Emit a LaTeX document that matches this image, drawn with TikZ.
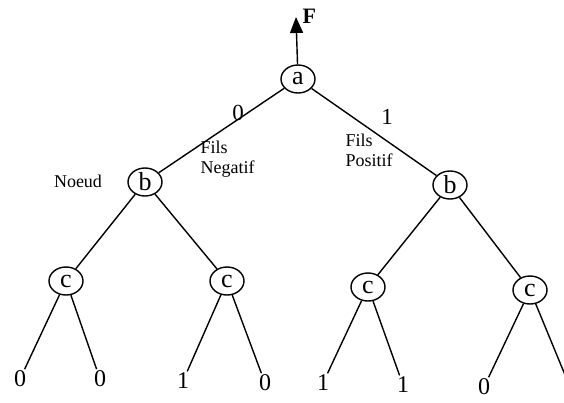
\documentclass[tikz,border=0pt]{standalone}
\usepackage{fontspec}
\setmainfont{Liberation Serif}
\usetikzlibrary{shapes.geometric,arrows.meta}
\begin{document}
\begin{tikzpicture}[x=1pt,y=-1pt,line width=1.4pt,
  vnode/.style={draw,ellipse,minimum width=34pt,minimum height=28pt,inner sep=0pt,font=\fontsize{26}{26}\selectfont},
  leaf/.style={inner sep=1pt,font=\fontsize{24}{24}\selectfont},
  elabel/.style={inner sep=0pt,font=\fontsize{23}{23}\selectfont},
  txt/.style={inner sep=0pt,font=\fontsize{18}{20}\selectfont,align=left}]
\useasboundingbox (0,0) rectangle (564,402);
\node[vnode] (a) at (298,79) {a};
\node[vnode] (bL) at (145,182) {b};
\node[vnode] (bR) at (450,185) {b};
\node[vnode] (c1) at (66,281) {c};
\node[vnode] (c2) at (227,281) {c};
\node[vnode] (c3) at (368,287) {c};
\node[vnode] (c4) at (530,290) {c};
\node[leaf] (l1) at (20,379) {0};
\node[leaf] (l2) at (100,379) {0};
\node[leaf] (l3) at (183,381) {1};
\node[leaf] (l4) at (265,383) {0};
\node[leaf] (l5) at (323,383) {1};
\node[leaf] (l6) at (403,385) {1};
\node[leaf] (l7) at (484,387) {0};
\node[leaf] (l8) at (570,387) {1};
\coordinate (F) at (296,17);
\node[txt,anchor=west,font=\fontsize{22}{22}\selectfont\bfseries] (Fl) at (302,16) {F};
\draw[-{Triangle[length=16pt,width=13pt]}] (a) -- (F);
\draw (a) -- (bL);
\draw (a) -- (bR);
\draw (bL) -- (c1);
\draw (bL) -- (c2);
\draw (bR) -- (c3);
\draw (bR) -- (c4);
\draw (c1) -- (l1);
\draw (c1) -- (l2);
\draw (c2) -- (l3);
\draw (c2) -- (l4);
\draw (c3) -- (l5);
\draw (c3) -- (l6);
\draw (c4) -- (l7);
\draw (c4) -- (l8);
\node[elabel] (z) at (238,113) {0};
\node[elabel] (o) at (387,117) {1};
\node[txt] (noeud) at (78,181) {Noeud};
\node[txt,anchor=north west] (fn) at (200,140) {Fils\\Negatif};
\node[txt,anchor=north west] (fp) at (345,133) {Fils\\Positif};
\end{tikzpicture}
\end{document}
